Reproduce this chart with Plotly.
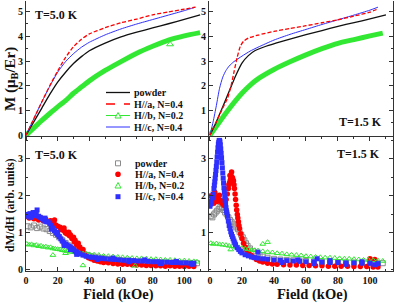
import plotly.graph_objects as go

# ---------------- data: top panels, magnetization M (muB/Er) vs field (kOe) ----------------
# T = 5.0 K
H_A_5K = [0, 5, 10, 15, 20, 25, 30, 35, 40, 50, 60, 70, 80, 90, 100, 107]
M_A_5K = [0, 0.68, 1.35, 2.0, 2.6, 3.15, 3.58, 3.88, 4.1, 4.35, 4.55, 4.7, 4.87, 4.99, 5.1, 5.18]
H_C_5K = [0, 5, 10, 15, 20, 25, 30, 35, 40, 50, 60, 70, 80, 90, 100, 107]
M_C_5K = [0, 0.68, 1.35, 1.98, 2.55, 2.98, 3.3, 3.56, 3.76, 4.06, 4.3, 4.5, 4.68, 4.86, 5.04, 5.18]
H_P_5K = [0, 5, 10, 15, 20, 25, 30, 35, 40, 50, 60, 70, 80, 90, 100, 110]
M_P_5K = [0, 0.55, 1.1, 1.65, 2.15, 2.55, 2.9, 3.18, 3.42, 3.73, 3.98, 4.17, 4.34, 4.51, 4.69, 4.87]
H_B_5K = [0, 5, 10, 15, 20, 25, 30, 35, 40, 50, 60, 70, 80, 90, 100, 110]
M_B_5K = [0, 0.3, 0.6, 0.88, 1.15, 1.4, 1.7, 1.95, 2.2, 2.62, 2.98, 3.32, 3.6, 3.85, 4.02, 4.15]
MARK_B_5K_H = [91]
MARK_B_5K_M = [3.68]

# T = 1.5 K
H_A_1K = [0, 4, 8, 11, 13, 15, 17, 19, 21, 24, 30, 40, 50, 60, 70, 80, 90, 100, 105]
M_A_1K = [0, 0.55, 1.1, 1.5, 1.95, 2.55, 3.15, 3.6, 3.8, 3.93, 4.05, 4.2, 4.32, 4.43, 4.55, 4.67, 4.82, 4.98, 5.11]
H_C_1K = [0, 2, 4, 6, 8, 10, 12, 15, 20, 25, 30, 40, 50, 60, 70, 80, 90, 100, 105]
M_C_1K = [0, 0.55, 1.2, 1.9, 2.35, 2.62, 2.8, 2.98, 3.2, 3.4, 3.56, 3.85, 4.08, 4.28, 4.48, 4.67, 4.86, 5.06, 5.18]
H_P_1K = [0, 4, 8, 12, 16, 20, 24, 28, 35, 45, 55, 65, 75, 85, 95, 110]
M_P_1K = [0, 0.55, 1.15, 1.78, 2.4, 2.92, 3.22, 3.42, 3.6, 3.8, 3.98, 4.15, 4.32, 4.48, 4.63, 4.87]
H_B_1K = [0, 5, 10, 15, 20, 25, 30, 40, 50, 60, 70, 80, 90, 100, 108]
M_B_1K = [0, 0.45, 0.9, 1.32, 1.7, 2.02, 2.28, 2.66, 2.97, 3.25, 3.5, 3.72, 3.87, 4.02, 4.13]

# ---------------- data: bottom panels, dM/dH (arb. units) as (field, value) ----------------
DP_5K = [(1, 1.18), (3, 1.15), (5, 1.2), (7, 1.13), (9, 1.17), (11, 1.12), (13, 1.1), (15, 1.05), (17, 1.0),
         (19, 0.95), (21, 0.88), (23, 0.8), (25, 0.73), (27, 0.66), (29, 0.6), (31, 0.55), (33, 0.5), (35, 0.46),
         (37, 0.42), (39, 0.4), (41, 0.37), (43, 0.36), (45, 0.34), (48, 0.32), (51, 0.3), (54, 0.29), (57, 0.28),
         (60, 0.26), (64, 0.25), (68, 0.24), (72, 0.23), (76, 0.22), (80, 0.22), (84, 0.21), (88, 0.2), (92, 0.2),
         (96, 0.19), (100, 0.19), (104, 0.18), (108, 0.18)]
DA_5K = [(0.5, 1.45), (2, 1.4), (3.5, 1.48), (5, 1.38), (6.5, 1.43), (8, 1.35), (9.5, 1.4), (11, 1.33), (12.5, 1.37),
         (14, 1.3), (15.5, 1.33), (16, 1.22), (17, 1.26), (18, 1.35), (18.5, 1.22), (19, 1.2), (20, 1.18), (21.5, 1.15),
         (22, 1.1), (23, 1.08), (24, 1.13), (24.5, 1.04), (25, 1.0), (26, 0.97), (27, 1.02), (27.5, 0.92), (28, 0.95),
         (29, 0.85), (30, 0.88), (30.5, 0.76), (31, 0.8), (32, 0.68), (33, 0.72), (33.5, 0.6), (34, 0.62), (35, 0.5),
         (36, 0.55), (36.5, 0.44), (38, 0.38), (39.5, 0.33), (41, 0.3), (43, 0.26), (45, 0.24), (47, 0.22), (49, 0.2),
         (52, 0.19), (55, 0.17), (58, 0.16), (61, 0.15), (64, 0.15), (67, 0.14), (70, 0.13), (73, 0.13), (76, 0.12),
         (79, 0.12), (82, 0.11), (85, 0.11), (88, 0.1), (91, 0.11), (94, 0.1), (97, 0.1), (100, 0.09), (103, 0.1),
         (106, 0.09)]
DB_5K = [(0.5, 0.7), (2, 0.68), (3.5, 0.69), (5, 0.66), (6.5, 0.67), (8, 0.64), (9.5, 0.65), (11, 0.62), (12.5, 0.63),
         (14, 0.6), (15.5, 0.61), (17, 0.58), (18.5, 0.57), (20, 0.56), (21.5, 0.55), (23, 0.53), (24.5, 0.52), (26, 0.5),
         (28, 0.49), (30, 0.48), (32, 0.46), (34, 0.45), (36, 0.44), (38, 0.43), (40, 0.42), (43, 0.41), (46, 0.4),
         (49, 0.38), (52, 0.37), (55, 0.36), (58, 0.35), (61, 0.34), (64, 0.33), (67, 0.32), (70, 0.31), (73, 0.31),
         (76, 0.3), (79, 0.29), (82, 0.29), (85, 0.28), (88, 0.27), (91, 0.27), (94, 0.26), (97, 0.25), (100, 0.25),
         (103, 0.24), (106, 0.23), (108, 0.22), (17, 0.4), (25, 0.45), (36, 0.12), (69, 0.11)]
DC_5K = [(0.5, 1.5), (1.5, 1.45), (2.5, 1.52), (3, 1.42), (3.5, 1.48), (4.5, 1.55), (5.5, 1.47), (6, 1.55), (6.5, 1.5),
         (7, 1.62), (8, 1.45), (9, 1.42), (10, 1.38), (11, 1.35), (12, 1.32), (12, 1.4), (13, 1.3), (14, 1.3), (15, 1.25),
         (16, 1.2), (16, 1.1), (17, 1.13), (18, 1.06), (19, 1.0), (20, 0.95), (20, 1.02), (21, 0.9), (22, 0.84), (23, 0.78),
         (24, 0.73), (24, 0.66), (25, 0.7), (26, 0.67), (27, 0.64), (28, 0.62), (28, 0.55), (29, 0.58), (30, 0.55),
         (31, 0.51), (32, 0.48), (32, 0.42), (33, 0.45), (34, 0.43), (36, 0.4), (38, 0.37), (40, 0.35), (42, 0.34),
         (44, 0.33), (45, 0.28), (46, 0.32), (48, 0.31), (50, 0.3), (53, 0.29), (55, 0.32), (56, 0.28), (59, 0.27),
         (62, 0.26), (65, 0.26), (65, 0.22), (68, 0.25), (71, 0.24), (74, 0.24), (75, 0.27), (77, 0.23), (80, 0.22),
         (83, 0.22), (85, 0.17), (86, 0.21), (89, 0.21), (92, 0.2), (95, 0.2), (95, 0.23), (98, 0.19), (101, 0.19),
         (104, 0.18), (105, 0.15), (106, 0.18)]

DP_1K = [(0.5, 1.45), (1.5, 1.42), (2.5, 1.5), (3.5, 1.55), (4.5, 1.6), (5.5, 1.65), (6.5, 1.7), (7.5, 1.68),
         (8.5, 1.62), (9.5, 1.55), (10.5, 1.5), (11.5, 1.42), (12.5, 1.35), (13.5, 1.3), (14.5, 1.25), (15.5, 1.2),
         (16.5, 1.15), (17.5, 1.1), (18.5, 1.02), (19.5, 0.95), (20.5, 0.88), (21.5, 0.8), (22.5, 0.72), (23.5, 0.65),
         (25, 0.58), (27, 0.5), (29, 0.44), (31, 0.4), (33, 0.36), (36, 0.33), (40, 0.3), (44, 0.28), (48, 0.27),
         (52, 0.26), (56, 0.25), (60, 0.24), (65, 0.23), (70, 0.22), (75, 0.21), (80, 0.21), (85, 0.2), (90, 0.2),
         (95, 0.19), (100, 0.19), (105, 0.18), (108, 0.18)]
DA_1K = [(0.3, 2.0), (1, 1.85), (1.7, 1.95), (2.4, 1.8), (3, 2.1), (3.1, 1.9), (3.8, 1.98), (4.5, 1.85), (5.2, 1.92),
         (5.9, 2.02), (6.6, 1.88), (7.3, 1.82), (8, 1.78), (8.7, 1.75), (9.4, 1.8), (10.1, 1.9), (10.8, 2.05),
         (11.5, 2.2), (11.8, 2.3), (12.2, 2.35), (12.5, 2.55), (12.6, 2.4), (12.9, 2.45), (13.2, 2.55), (13.5, 2.65),
         (13.6, 2.5), (14, 2.5), (14.3, 2.45), (14.7, 2.4), (15, 2.3), (15.3, 2.2), (15.7, 2.05), (16, 1.9),
         (16.4, 1.75), (16.7, 1.62), (17.1, 1.5), (17.4, 1.4), (17.8, 1.3), (18.1, 1.2), (18.5, 1.12), (19.2, 0.98),
         (20, 0.85), (21, 0.72), (22, 0.62), (23, 0.53), (24, 0.46), (25.5, 0.4), (27, 0.34), (29, 0.28), (31, 0.24),
         (33, 0.21), (36, 0.18), (39, 0.16), (42, 0.15), (46, 0.14), (50, 0.13), (54, 0.13), (58, 0.12), (62, 0.12),
         (66, 0.11), (70, 0.11), (74, 0.1), (78, 0.1), (82, 0.1), (86, 0.1), (90, 0.09), (94, 0.09), (98, 0.09),
         (100, 0.3), (102, 0.08), (103, 0.28), (105, 0.08)]
DB_1K = [(0.5, 0.72), (2, 0.7), (4, 0.71), (6, 0.69), (8, 0.68), (10, 0.67), (12, 0.65), (13, 0.55), (14, 0.64),
         (16, 0.62), (18, 0.61), (20, 0.59), (22, 0.57), (24, 0.56), (26, 0.54), (28, 0.53), (30, 0.52), (33, 0.5),
         (33, 0.7), (36, 0.48), (36, 0.75), (39, 0.47), (42, 0.45), (45, 0.44), (48, 0.42), (51, 0.41), (54, 0.4),
         (57, 0.39), (60, 0.37), (63, 0.36), (66, 0.35), (69, 0.34), (72, 0.33), (75, 0.33), (78, 0.32), (81, 0.31),
         (84, 0.3), (87, 0.3), (90, 0.29), (93, 0.28), (96, 0.27), (99, 0.27), (102, 0.26), (105, 0.25), (108, 0.24)]
DC_1K = [(0, 1.72), (0.5, 1.78), (1, 1.85), (1.5, 1.95), (2, 2.05), (2.5, 2.2), (2.75, 2.29), (3, 2.38), (3.25, 2.48),
         (3.5, 2.58), (3.75, 2.69), (4, 2.8), (4.25, 2.92), (4.5, 3.05), (4.75, 3.18), (5, 3.3), (5.25, 3.4),
         (5.5, 3.45), (5.75, 3.5), (6, 3.5), (6.25, 3.46), (6.5, 3.38), (6.75, 3.27), (7, 3.15), (7.25, 3.03),
         (7.5, 2.9), (7.75, 2.76), (8, 2.62), (8.25, 2.48), (8.5, 2.35), (8.75, 2.22), (9, 2.1), (9.25, 1.98),
         (9.5, 1.88), (9.75, 1.78), (10, 1.68), (10.25, 1.6), (10.5, 1.55), (11, 1.45), (11.5, 1.32), (12, 1.2),
         (12.5, 1.12), (13, 1.03), (13.5, 0.96), (14, 0.9), (14.5, 0.84), (15, 0.78), (15.5, 0.73), (16, 0.68),
         (17, 0.6), (18, 0.55), (19, 0.5), (20, 0.46), (22, 0.41), (24, 0.38), (26, 0.35), (28, 0.33), (30, 0.32),
         (30, 0.48), (33, 0.3), (36, 0.29), (40, 0.27), (44, 0.26), (45, 0.2), (48, 0.25), (52, 0.24), (55, 0.27),
         (56, 0.23), (60, 0.22), (65, 0.22), (65, 0.17), (67, 0.3), (70, 0.21), (75, 0.2), (75, 0.25), (80, 0.2),
         (85, 0.19), (85, 0.15), (90, 0.19), (95, 0.18), (95, 0.22), (100, 0.18), (103, 0.14), (105, 0.17)]

LEGEND_LINES = ["powder", "H//a, N=0.4", "H//b, N=0.2", "H//c, N=0.4"]
XTICKS = [0, 20, 40, 60, 80, 100]

# ---------------- styling ----------------
FONT = "Liberation Serif, Times New Roman, serif"
BLACK, RED, GREEN, BLUE, GRAY = "#111111", "#ff0000", "#33e833", "#2f2fff", "#8a8a8a"

W_PX, H_PX = 395, 303
ML, MR, MT, MB = 26, 2, 1, 32
PW, PH = W_PX - ML - MR, H_PX - MT - MB
XSPLIT = (209 - ML) / PW


def px(x):
    return (x - ML) / PW


def py(y):
    return (MT + PH - y) / PH


fig = go.Figure()


def line(xs, ys, color, width, axes, dash="solid"):
    fig.add_trace(go.Scatter(x=xs, y=ys, mode="lines", xaxis=axes[0], yaxis=axes[1],
                             line=dict(color=color, width=width, dash=dash, shape="spline", smoothing=0.6),
                             showlegend=False, hoverinfo="skip"))


def dots(pairs, symbol, color, axes, size=5, open_=False):
    xs = [p[0] for p in pairs]
    ys = [p[1] for p in pairs]
    mk = dict(symbol=symbol, size=size, color=color, line=dict(width=0))
    if open_:
        mk = dict(symbol=symbol + "-open", size=size, color=color, line=dict(width=1, color=color))
    fig.add_trace(go.Scatter(x=xs, y=ys, mode="markers", xaxis=axes[0], yaxis=axes[1],
                             marker=mk, showlegend=False, hoverinfo="skip"))


# top-left (5.0 K)
line(H_B_5K, M_B_5K, GREEN, 5, ("x", "y"))
line(H_P_5K, M_P_5K, BLACK, 1.3, ("x", "y"))
line(H_C_5K, M_C_5K, BLUE, 1.0, ("x", "y"))
line(H_A_5K, M_A_5K, RED, 1.3, ("x", "y"), dash="4px,2px")
fig.add_trace(go.Scatter(x=MARK_B_5K_H, y=MARK_B_5K_M, mode="markers", xaxis="x", yaxis="y",
                         marker=dict(symbol="triangle-up-open", size=6, color=GREEN, line=dict(width=1, color=GREEN)),
                         showlegend=False, hoverinfo="skip"))
# top-right (1.5 K)
line(H_B_1K, M_B_1K, GREEN, 5, ("x2", "y2"))
line(H_P_1K, M_P_1K, BLACK, 1.3, ("x2", "y2"))
line(H_C_1K, M_C_1K, BLUE, 1.0, ("x2", "y2"))
line(H_A_1K, M_A_1K, RED, 1.3, ("x2", "y2"), dash="4px,2px")
# bottom-left (5.0 K)
dots(DP_5K, "square", GRAY, ("x3", "y3"), open_=True)
dots(DA_5K, "circle", RED, ("x3", "y3"), size=5.5)
dots(DB_5K, "triangle-up", GREEN, ("x3", "y3"), open_=True)
dots(DC_5K, "square", BLUE, ("x3", "y3"))
# bottom-right (1.5 K)
dots(DP_1K, "square", GRAY, ("x4", "y4"), open_=True)
dots(DA_1K, "circle", RED, ("x4", "y4"), size=5.5)
dots(DB_1K, "triangle-up", GREEN, ("x4", "y4"), open_=True)
dots(DC_1K, "square", BLUE, ("x4", "y4"))

tickfont = dict(family=FONT, size=10, color="#111", weight="bold")
axcommon = dict(showgrid=False, zeroline=False, showline=True, linecolor="#333", linewidth=1,
                tickfont=tickfont, tickcolor="#333", ticklen=4, tickwidth=1, automargin=False)

xl_range = [0, 115.6]
xr_range = [-0.6, 114.4]
ytop_range = [-0.03, 5.43]
ybot_range = [-0.03, 3.62]

fig.update_layout(
    width=W_PX, height=H_PX, margin=dict(l=ML, r=MR, t=MT, b=MB, autoexpand=False),
    paper_bgcolor="white", plot_bgcolor="white",
    font=dict(family=FONT, color="#111"),
    xaxis=dict(domain=[0, XSPLIT], range=xl_range, anchor="y", tickvals=XTICKS, showticklabels=False,
               ticks="outside", minor=dict(ticks="outside", ticklen=2, dtick=10, tick0=0), **axcommon),
    xaxis2=dict(domain=[XSPLIT, 1], range=xr_range, anchor="y2", tickvals=XTICKS, showticklabels=False,
                ticks="outside", minor=dict(ticks="outside", ticklen=2, dtick=10, tick0=0), **axcommon),
    xaxis3=dict(domain=[0, XSPLIT], range=xl_range, anchor="y3", tickvals=XTICKS, ticks="inside",
                minor=dict(ticks="inside", ticklen=2, dtick=10, tick0=0), **axcommon),
    xaxis4=dict(domain=[XSPLIT, 1], range=xr_range, anchor="y4", tickvals=XTICKS, ticks="inside",
                minor=dict(ticks="inside", ticklen=2, dtick=10, tick0=0), **axcommon),
    yaxis=dict(domain=[0.5, 1], range=ytop_range, anchor="x", tickvals=[0, 1, 2, 3, 4, 5], ticks="inside",
               minor=dict(ticks="inside", ticklen=2, dtick=0.5, tick0=0), **axcommon),
    yaxis2=dict(domain=[0.5, 1], range=ytop_range, anchor="x2", tickvals=[1, 2, 3, 4, 5], ticks="inside",
                mirror="ticks", minor=dict(ticks="inside", ticklen=2, dtick=0.5, tick0=0), **axcommon),
    yaxis3=dict(domain=[0, 0.5], range=ybot_range, anchor="x3", tickvals=[0, 1, 2, 3], ticks="inside",
                minor=dict(ticks="inside", ticklen=2, dtick=0.5, tick0=0), **axcommon),
    yaxis4=dict(domain=[0, 0.5], range=ybot_range, anchor="x4", tickvals=[1, 2, 3], ticks="inside",
                mirror="ticks", minor=dict(ticks="inside", ticklen=2, dtick=0.5, tick0=0), **axcommon),
)

ann = []


def text(x, y, s, size, xanchor="left", angle=0):
    ann.append(dict(x=px(x), y=py(y), xref="paper", yref="paper", text=s, showarrow=False,
                    xanchor=xanchor, yanchor="middle", textangle=angle,
                    font=dict(family=FONT, size=size, color="#111", weight="bold")))


text(33, 15, "T=5.0 K", 12)
text(337, 122, "T=1.5 K", 12)
text(33, 155, "T=5.0 K", 12)
text(335, 154, "T=1.5 K", 12)
text(11, 79, "M (μ<sub>B</sub>/Er)", 15, xanchor="center", angle=-90)
text(10, 205, "dM/dH (arb. units)", 11.5, xanchor="center", angle=-90)
text(118, 294, "Field (kOe)", 14.5, xanchor="center")
text(312, 294, "Field (kOe)", 14.5, xanchor="center")

# legends drawn as shapes + text
shapes = []
top_rows = [92.5, 104, 115.5, 127]
line_styles = [(BLACK, "solid", 1.3), (RED, "dash", 1.3), (GREEN, "solid", 1), (BLUE, "solid", 1)]
for yrow, lbl, (c, d, w) in zip(top_rows, LEGEND_LINES, line_styles):
    shapes.append(dict(type="line", xref="paper", yref="paper", x0=px(106), x1=px(130), y0=py(yrow), y1=py(yrow),
                       line=dict(color=c, width=w, dash=d)))
    text(132, yrow, lbl, 10)
# triangle on H//b legend line
tx, ty = 118, top_rows[2]
shapes.append(dict(type="path", xref="paper", yref="paper",
                   path=f"M {px(tx-3)},{py(ty+2.5)} L {px(tx+3)},{py(ty+2.5)} L {px(tx)},{py(ty-3)} Z",
                   fillcolor="white", line=dict(color=GREEN, width=1)))

bot_rows = [163.3, 174.3, 185.5, 196.7]
mx = 118
for yrow, lbl in zip(bot_rows, LEGEND_LINES):
    text(133, yrow, lbl, 10)
r = 2.5
shapes.append(dict(type="rect", xref="paper", yref="paper", x0=px(mx-r), x1=px(mx+r), y0=py(bot_rows[0]+r),
                   y1=py(bot_rows[0]-r), line=dict(color=GRAY, width=1)))
shapes.append(dict(type="circle", xref="paper", yref="paper", x0=px(mx-2.8), x1=px(mx+2.8), y0=py(bot_rows[1]+2.8),
                   y1=py(bot_rows[1]-2.8), fillcolor=RED, line=dict(color=RED, width=0)))
ty = bot_rows[2]
shapes.append(dict(type="path", xref="paper", yref="paper",
                   path=f"M {px(mx-3)},{py(ty+2.5)} L {px(mx+3)},{py(ty+2.5)} L {px(mx)},{py(ty-3)} Z",
                   line=dict(color=GREEN, width=1)))
shapes.append(dict(type="rect", xref="paper", yref="paper", x0=px(mx-r), x1=px(mx+r), y0=py(bot_rows[3]+r),
                   y1=py(bot_rows[3]-r), fillcolor=BLUE, line=dict(color=BLUE, width=0)))

fig.update_layout(annotations=ann, shapes=shapes)
fig.write_html("out.html", config={"displayModeBar": False},
               post_script="document.body.style.margin='0';document.body.style.overflow='hidden';")
